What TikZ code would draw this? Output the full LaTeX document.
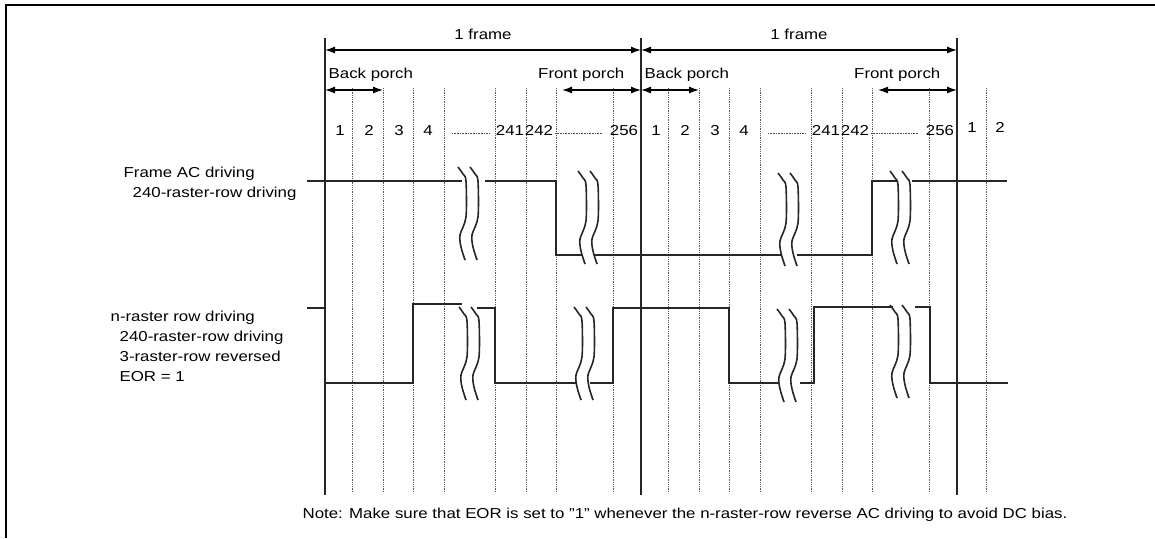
\documentclass[tikz,border=0pt]{standalone}
\usepackage{fontspec}
\setmainfont{Liberation Sans}[FakeStretch=1.17]
\usetikzlibrary{arrows.meta, positioning}
\tikzset{
  every picture/.style={line width=1.3pt},
  lbl/.style={font=\fontsize{14.4}{20}\selectfont, inner sep=0pt, align=left},
  bound/.style={line width=1.6pt, draw=black!85},
  cellline/.style={line width=0.7pt, draw=black!65, dash pattern=on 0.9pt off 0.9pt},
  dotrow/.style={line width=0.8pt, draw=black!70, dash pattern=on 0.8pt off 0.8pt},
  wave/.style={line width=1.6pt, draw=black!85},
  framearrow/.style={{Latex[length=10pt,width=7pt]}-{Latex[length=10pt,width=7pt]}, line width=1.3pt},
  brk/.pic={
    \draw[wave] plot[smooth] coordinates {(0,0) (5,7) (8,14) (8,50) (2,68) (3,80) (7,93)};
    \draw[wave] plot[smooth] coordinates {(12,0) (17,7) (20,14) (20,50) (14,68) (15,80) (19,93)};
  },
}

\begin{document}
\begin{tikzpicture}[x=1pt, y=-1pt]
  \useasboundingbox (0,0) rectangle (1155,538);
  \draw[line width=2pt] (6,538) -- (6,5) -- (1155,5);

  % frame boundaries
  \coordinate (fa arr) at (325,50);
  \coordinate (fb arr) at (641,50);
  \coordinate (fc arr) at (957,50);
  \foreach \fr in {fa, fb, fc}
    \draw[bound] (\fr\space arr) ++(0,-12) -- ++(0,457);
  \draw[framearrow] (fa arr) -- (fb arr) node[lbl, midway, above=10pt] (fr1) {1 frame};
  \draw[framearrow] (fb arr) -- (fc arr) node[lbl, midway, above=10pt] (fr2) {1 frame};

  % raster rows of each frame
  \foreach \fr/\fx in {fa/325, fb/641} {
    \foreach \dx in {27,58,88,119,170,201,231,288}
      \draw[cellline] (\fx+\dx,88) -- (\fx+\dx,492);
    \foreach \t/\dx in {1/15, 2/44, 3/74, 4/103, 241/185, 242/214, 256/299}
      \node[lbl, anchor=base] (\fr n\t) at (\fx+\dx,135) {\t};
    \draw[dotrow] (\fx+127,133) -- (\fx+165,133);
    \draw[dotrow] (\fx+230,133) -- (\fx+277,133);
    % porches
    \coordinate (\fr bp0) at (\fx,90);
    \coordinate (\fr bp1) at (\fx+58,90);
    \coordinate (\fr fp0) at (\fx+237,90);
    \coordinate (\fr fp1) at (\fx+316,90);
    \draw[framearrow] (\fr bp0) -- (\fr bp1);
    \draw[framearrow] (\fr fp0) -- (\fr fp1);
    \node[lbl, anchor=base west] (\fr bpl) at (\fx+3,78) {Back porch};
    \node[lbl, anchor=base east] (\fr fpl) at (\fx+300,78) {Front porch};
  }
  \draw[cellline] (986,88) -- (986,492);
  \node[lbl, anchor=base] (fc n1) at (972,132) {1};
  \node[lbl, anchor=base] (fc n2) at (1000,132) {2};

  % signal names
  \node[lbl, anchor=base west] (sig1) at (123,197) {Frame AC driving\\\hspace*{9pt}240-raster-row driving};
  \node[lbl, anchor=base west] (sig2) at (110,381) {n-raster row driving\\\hspace*{9pt}240-raster-row driving\\\hspace*{9pt}3-raster-row reversed\\\hspace*{9pt}EOR = 1};

  % frame AC driving
  \draw[wave] (307,181) -- (462,181);
  \draw[wave] (485,181) -- (556,181) -- (556,255) -- (582,255);
  \draw[wave] (595,255) -- (782,255);
  \draw[wave] (797,255) -- (872,255) -- (872,181) -- (898,181);
  \draw[wave] (912,181) -- (1007,181);
  \pic at (458,167) {brk};
  \pic at (578,171) {brk};
  \pic at (778,173) {brk};
  \pic at (890,171) {brk};

  % n-raster row driving
  \draw[wave] (307,308) -- (325,308) -- (325,383) -- (413,383) -- (413,304) -- (462,304);
  \draw[wave] (477,308) -- (495,308) -- (495,383) -- (576,383);
  \draw[wave] (590,383) -- (613,383) -- (613,308) -- (729,308) -- (729,383) -- (778,383);
  \draw[wave] (800,383) -- (814,383) -- (814,307) -- (893,307);
  \draw[wave] (915,307) -- (930,307) -- (930,383) -- (1008,383);
  \pic at (459,307) {brk};
  \pic at (574,307) {brk};
  \pic at (777,309) {brk};
  \pic at (890,305) {brk};

  \node[lbl, anchor=base west] (note) at (302,518) {Note: Make sure that EOR is set to "1" whenever the n-raster-row reverse AC driving to avoid DC bias.};
\end{tikzpicture}
\end{document}
